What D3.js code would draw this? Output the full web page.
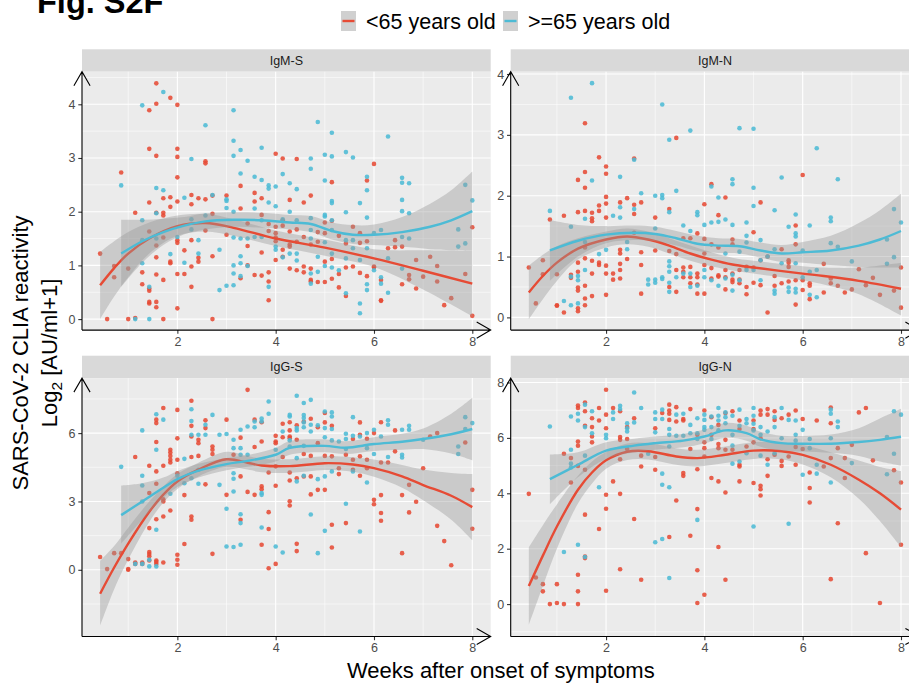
<!DOCTYPE html>
<html>
<head>
<meta charset="utf-8">
<script src="https://cdn.jsdelivr.net/npm/d3@7"></script>
<style>
  body { margin: 0; background: #ffffff; }
  svg { display: block; font-family: "Liberation Sans", Arial, Helvetica, sans-serif; }
</style>
</head>
<body>
<svg id="chart" width="909" height="684"></svg>
<script>
// ---- facets, groups, axes ----
const panelNames = ["IgM-S", "IgM-N", "IgG-S", "IgG-N"];
const groupNames = ["<65 years old", ">=65 years old"];
const groupColors = ["#E64B35", "#4DBBD5"];

// x values are days after onset; ticks are labelled in weeks
const xDomainDays = [0.42, 58.62];
const xTickDays = [14, 28, 42, 56];
const xTickLabels = ["2", "4", "6", "8"];
const xMinorDays = [7, 21, 35, 49];

const yDomains = [[-0.205, 4.607], [-0.209, 4.038], [-2.928, 8.415], [-1.17, 8.159]];
const yTicks = [[0, 1, 2, 3, 4], [0, 1, 2, 3, 4], [0, 3, 6], [0, 2, 4, 6, 8]];
const yMinor = [[0.5, 1.5, 2.5, 3.5, 4.5], [0.5, 1.5, 2.5, 3.5], [-1.5, 1.5, 4.5, 7.5], [-1, 1, 3, 5, 7]];

// ---- observations: [day, log2 value] ----
const igmS_under65 = [[3,1.22],[4,0],[5,0.99],[5,0.78],[6,2.73],[7,0],[7,0.94],[8,1.98],[8,0.02],[9,0.87],[9,0.65],
[10,3.89],[10,3.17],[10,2.17],[10,1.63],[10,0.57],[10,0.53],[10,0.32],[10,0.29],
[11,4.39],[11,4.01],[11,3.04],[11,1.98],[11,1.37],[11,1.15],[11,0.83],[11,0.32],[11,0.22],
[12,2.25],[12,1.98],[12,1.93],[12,1.52],[12,0.73],[12,0],
[13,4.12],[13,2.27],[13,2.09],[13,1.07],[13,1.04],
[14,3.99],[14,3.17],[14,3.02],[14,2.64],[14,2.19],[14,1.47],[14,1.42],[14,0.84],[14,0.2],
[15,1.28],[15,0.84],[16,2.31],[16,2.14],[16,1.47],[16,0.98],[16,0.6],[17,2.25],[17,1.14],[17,1.07],
[18,2.94],[18,2.9],[18,2.23],[18,1.65],[19,2.3],[19,1.96],[19,1.17],[19,0],[21,2.3],[21,1.57],
[23,2.48],[23,2.06],[23,0.76],[24,1.78],[24,1.36],[24,1.0],[25,2.35],[25,2.19],[25,0.82],
[26,2.25],[26,1.94],[26,1.24],[26,0.81],[27,1.77],[27,1.64],[27,0.87],[27,0.7],[27,0.35],
[28,3.08],[28,1.72],[28,1.6],[28,1.52],[28,1.45],[28,1.1],[29,2.99],[29,1.84],[29,1.74],[29,1.29],[29,1.16],
[30,2.22],[30,1.63],[30,1.39],[30,1.35],[30,0.94],[31,2.98],[31,1.67],[31,1.44],[31,0.91],
[32,2.17],[32,1.53],[32,0.98],[32,0.87],[33,2.3],[33,1.39],[33,0.94],[33,0.73],[33,0.7],
[34,1.62],[34,1.44],[34,0.69],[35,1.8],[35,1.6],[35,1.07],[35,0.69],[36,2.55],[36,1.83],[36,1.12],[36,0.75],
[37,1.55],[37,0.84],[37,0.59],[38,1.41],[38,0.96],[38,0.43],[39,1.72],[39,0.98],[40,1.6],[40,1.42],[40,0.86],
[41,2.58],[41,1.45],[41,0.8],[42,2.89],[42,0.98],[42,0.96],[43,0.73],[43,0.35],[43,0.34],[44,1.32],
[45,1.47],[45,1.34],[46,1.35],[46,0.65],[47,0.82],[47,0.74],[48,1.1],[48,0.57],[49,0.79],[50,1.16],
[51,0.99],[51,0.7],[52,0.26],[53,0.39],[55,0.84],[56,1.71],[56,0.06]];

const igmS_over65 = [[6,2.49],[8,0],[9,3.98],[9,1.84],[9,1.47],[9,1.04],[10,0.6],[10,0],[11,2.44],[11,1.97],[11,1.5],
[12,4.23],[12,2.4],[13,1.21],[14,1.53],[15,2.26],[15,1.05],[16,2.98],[16,1.86],[16,1.67],[17,1.47],[17,1.22],
[18,3.61],[18,1.93],[19,2.31],[20,1.29],[20,0.54],[21,2.23],[21,2.2],[21,2.07],[21,0.62],
[22,3.89],[22,3.32],[22,3.04],[22,2.0],[22,1.52],[22,1.0],[22,0.85],[22,0.63],
[23,3.15],[23,2.71],[23,1.5],[23,1.17],[23,1.04],[23,0.8],[24,2.95],[24,1.5],[24,0.99],
[25,2.65],[25,2.06],[25,1.53],[26,3.19],[26,2.59],[26,1.84],[26,1.53],[27,2.49],[27,2.43],[27,2.17],[27,0.6],
[28,2.47],[28,2.1],[28,1.35],[28,1.29],[29,2.7],[29,1.86],[29,1.15],[30,2.53],[30,2.0],[30,1.22],
[31,2.42],[31,1.84],[31,1.22],[31,1.09],[33,2.99],[33,2.8],[33,1.88],[33,1.66],[33,1.5],[33,0.85],[33,0.66],
[34,3.67],[34,1.16],[34,0.88],[35,3.06],[35,2.58],[35,1.94],[35,1.91],[35,1.43],[35,0.99],
[36,3.47],[36,3.03],[36,2.2],[36,2.16],[36,1.84],[36,1.66],[36,1.22],[36,0.96],[37,0.91],
[38,3.11],[38,1.99],[38,1.47],[38,1.13],[38,0.48],[39,3.01],[39,1.47],[39,1.32],[40,2.16],[40,1.1],[40,0.29],[40,0.11],
[41,2.65],[41,2.4],[41,1.89],[41,1.32],[41,0.65],[41,0.54],[42,1.6],[42,0.91],[43,1.66],[43,0.78],[43,0.66],
[44,3.4],[44,1.13],[44,0.49],[46,2.63],[46,2.54],[46,2.22],[46,2.01],[46,1.53],[46,0.94],[47,2.53],[47,1.97],[47,1.5],
[54,1.67],[54,1.35],[55,2.5],[55,1.41],[56,2.21]];

const igmN_under65 = [[3,0.82],[4,0.23],[5,0.94],[5,0.71],[6,1.61],[7,0.71],[7,0.2],[7,0.19],[8,1.67],[8,0.08],[9,0.65],[9,0.7],
[10,2.26],[10,1.73],[10,0.9],[10,0.75],[10,0.49],[10,0.44],[10,0.15],[10,0.1],
[11,3.19],[11,2.39],[11,2.13],[11,1.75],[11,1.15],[11,0.97],[11,0.52],[11,0.31],[11,0.2],
[12,1.72],[12,1.63],[12,1.58],[12,0.93],[12,0.72],[12,0.35],[13,2.63],[13,1.84],[13,1.75],[13,0.9],[13,0.86],
[14,2.48],[14,2.36],[14,1.98],[14,1.87],[14,1.64],[14,0.85],[14,0.72],[14,0.37],[15,0.72],[15,0.62],
[16,1.89],[16,1.11],[16,1.05],[16,0.88],[16,0.78],[16,0.64],[17,1.96],[17,0.96],[18,2.61],[18,1.85],[18,1.7],[18,1.39],
[19,1.89],[19,1.07],[19,0.86],[19,0.39],[21,1.64],[21,1.1],[23,1.78],[23,1.09],[23,0.5],
[24,2.95],[24,1.04],[24,0.78],[24,0.42],[25,1.3],[25,0.82],[25,0.75],[25,0.66],[26,1.3],[26,0.83],[26,0.66],[26,0.56],
[27,1.38],[27,0.72],[27,0.66],[27,0.54],[27,0.39],[28,1.86],[28,1.29],[28,1.05],[28,0.86],[28,0.39],
[29,2.19],[29,1.2],[29,0.81],[29,0.64],[30,1.68],[30,1.15],[30,0.69],[30,0.67],[31,1.97],[31,0.78],[31,0.66],[31,0.46],
[32,1.28],[32,1.2],[32,0.72],[32,0.62],[32,0.58],[33,0.78],[33,0.62],[33,0.56],[34,0.83],[34,0.5],[34,0.38],
[35,1.4],[35,0.82],[35,0.57],[36,1.89],[36,0.94],[36,0.53],[37,1.0],[37,0.08],[38,0.68],[38,0.52],[39,1.12],[39,0.56],
[40,0.94],[40,0.9],[40,0.83],[40,0.59],[41,1.51],[41,1.2],[41,0.61],[41,0.21],[42,2.34],[42,0.61],[42,0.45],
[43,0.56],[43,0.52],[43,0.3],[45,0.88],[45,0.41],[46,0.64],[46,0.56],[47,0.52],[48,0.41],[49,0.46],[50,0.79],
[51,0.53],[52,0.65],[53,0.37],[55,0.44],[56,0.82],[56,0.16]];

const igmN_over65 = [[6,1.75],[8,0.27],[9,3.61],[9,1.49],[9,0.67],[9,0.2],[10,0.68],[10,0.61],[10,0.23],[11,1.62],[11,1.24],[11,0.78],
[12,3.85],[12,2.25],[13,1.04],[14,1.11],[15,1.67],[16,2.31],[16,1.81],[16,1.64],[17,1.24],[17,1.12],[18,2.59],[18,1.78],
[19,2.04],[20,0.62],[20,0.54],[21,2.0],[21,1.46],[21,0.62],[21,0.57],[22,3.5],[22,2.01],[22,1.96],[22,0.66],[22,0.63],
[23,2.92],[23,1.73],[23,0.92],[23,0.84],[23,0.75],[23,0.57],[23,0.42],[24,2.08],[24,0.66],[25,1.51],[25,0.72],
[26,3.07],[26,1.42],[26,0.72],[26,0.5],[27,1.73],[27,1.68],[27,0.52],[28,1.52],[28,0.78],[28,0.66],
[29,2.15],[29,1.56],[29,0.61],[30,1.97],[30,1.57],[30,0.52],[31,1.61],[31,1.05],[31,0.64],
[32,2.27],[32,2.19],[32,1.52],[32,0.7],[32,0.44],[33,3.11],[33,1.08],[33,0.61],[34,1.56],[34,1.34],[34,1.23],[34,0.78],
[35,3.1],[35,2.13],[35,1.83],[35,0.78],[36,1.27],[36,0.94],[36,0.61],[37,1.0],[38,1.76],[38,1.12],[38,0.44],[38,0.39],
[39,2.3],[39,0.89],[40,1.49],[40,0.49],[40,0.42],[41,1.69],[41,1.38],[41,1.33],[41,0.89],[41,0.47],[41,0.41],
[42,1.1],[42,0.66],[43,1.51],[43,0.75],[43,0.37],[44,2.78],[44,0.78],[44,0.33],[46,1.64],[46,1.58],[46,1.22],
[47,2.27],[47,1.16],[49,0.92],[54,1.28],[54,0.88],[55,1.78],[55,0.99],[56,1.56]];

const iggS_under65 = [[3,0.56],[4,0.03],[5,0.73],[6,0.73],[7,0.47],[7,0.03],[7,0],[8,4.95],[8,0.32],[8,0.26],[9,0.32],[9,0.26],
[10,4.57],[10,3.37],[10,1.83],[10,0.78],[10,0.69],[10,0.59],[10,0.41],
[11,6.59],[11,6.44],[11,5.61],[11,4.32],[11,3.78],[11,2.22],[11,0.41],[11,0.34],[11,0.26],
[12,7.1],[12,4.57],[12,3.1],[12,3.0],[12,2.34],[12,0.32],[13,5.27],[13,5.15],[13,5.0],[13,4.83],[13,4.71],[13,2.6],
[14,7.02],[14,5.77],[14,4.83],[14,4.24],[14,0.66],[14,0.44],[14,0.22],[15,3.28],[15,1.13],
[16,7.42],[16,6.32],[16,5.85],[16,4.95],[16,2.34],[16,2.2],[17,5.71],[17,5.56],[17,5.0],[18,6.56],[18,6.22],[18,3.75],
[19,5.41],[19,5.27],[19,5.08],[19,0.7],[21,6.59],[21,3.29],[22,5.05],[23,5.8],[23,4.1],[23,2.2],[24,7.9],[24,3.42],
[25,6.59],[25,5.39],[25,3.29],[26,6.48],[26,5.63],[26,3.66],[26,3.54],[26,1.1],[27,4.27],[27,2.53],[27,1.79],[27,0.07],
[28,5.88],[28,5.63],[28,5.56],[28,4.54],[28,3.69],[28,0.26],[29,6.41],[29,5.82],[29,4.95],
[30,6.48],[30,6.12],[30,5.85],[30,5.78],[30,4.27],[30,3.92],[30,3.01],[30,2.82],[31,6.34],[31,5.71],[31,4.02],[31,1.14],[31,0.82],
[32,6.5],[32,5.08],[32,4.1],[33,6.63],[33,5.0],[33,4.1],[33,3.31],[34,6.26],[34,5.56],[34,3.51],
[35,6.88],[35,6.47],[35,5.0],[35,3.51],[36,6.32],[36,4.98],[36,1.98],[36,0.98],[37,4.46],[37,4.2],[38,5.05],[38,2.05],
[39,5.74],[39,4.83],[39,4.39],[40,6.47],[40,5.93],[40,4.98],[40,4.13],[41,5.75],[41,4.83],[41,4.46],
[42,6.0],[42,3.07],[42,2.88],[43,6.48],[43,4.71],[43,3.28],[43,2.49],[43,2.15],[44,4.71],[45,6.12],[45,5.2],
[46,3.28],[46,0.73],[47,3.73],[47,2.52],[48,2.99],[49,4.46],[50,5.85],[51,6.0],[51,1.93],[52,1.26],[53,0.2],
[55,5.59],[56,3.51],[56,1.8]];

const iggS_over65 = [[6,4.52],[8,0.26],[9,6.12],[9,4.13],[9,3.7],[9,3.0],[9,0.26],[10,0.44],[10,0.15],[11,6.83],[11,5.27],[11,1.76],[11,0.15],
[12,6.59],[13,3.34],[14,4.13],[15,4.87],[15,3.8],[16,7.05],[16,6.53],[16,5.93],[16,4.02],[17,5.93],[17,4.39],[17,3.78],
[18,6.37],[18,5.93],[19,6.8],[20,5.93],[20,3.73],[21,5.96],[21,2.68],[21,1.02],[22,5.71],[22,5.34],[22,4.24],[22,4.0],[22,3.44],[22,1.0],
[23,6.15],[23,5.34],[23,5.05],[23,2.44],[23,2.05],[23,1.1],[24,6.29],[24,5.05],[25,6.51],[25,6.26],
[26,6.64],[26,6.51],[26,3.37],[26,3.29],[26,1.86],[27,7.39],[27,6.85],[28,5.27],[28,1.02],[29,6.07],[29,0.76],
[30,6.8],[30,6.73],[30,5.68],[30,5.41],[31,7.64],[31,6.22],[31,6.12],[31,4.9],[31,3.88],
[32,7.32],[32,6.79],[32,6.66],[32,6.47],[32,6.26],[32,5.44],[32,4.13],[33,7.46],[33,6.37],[33,6.07],[33,2.43],
[34,6.34],[34,3.98],[34,0.73],[35,6.95],[35,6.22],[35,5.82],[35,4.1],[35,1.71],[36,6.91],[36,6.73],[36,6.18],[36,5.68],[36,4.32],
[37,5.63],[38,5.97],[38,5.74],[38,5.3],[38,2.9],[39,6.7],[39,5.88],[39,4.32],[40,5.85],[40,1.68],[41,6.0],[41,5.34],[41,3.83],
[42,6.15],[42,5.08],[43,5.85],[44,6.56],[44,6.37],[44,4.95],[46,6.15],[46,5.05],[46,4.93],[47,6.32],[47,6.15],[49,5.71],
[54,5.41],[54,5.08],[55,6.7],[55,6.18],[56,6.44]];

const iggN_under65 = [[3,3.98],[4,0.96],[5,0.72],[5,0.46],[6,0],[7,0.72],[7,0.04],[8,5.43],[8,0],[9,5.27],[9,4.39],
[10,7.17],[10,7.08],[10,5.87],[10,5.72],[10,4.99],[10,1.06],[10,0.46],[10,0],
[11,7.28],[11,6.96],[11,6.44],[11,4.85],[11,3.23],[11,1.72],[11,1.66],[12,6.71],[12,6.39],[12,6.05],[12,5.84],
[13,7.08],[13,6.63],[13,2.71],[14,7.74],[14,6.84],[14,6.35],[14,3.95],[14,3.44],[14,0.48],[15,7.08],[15,4.43],
[16,6.96],[16,6.03],[16,5.93],[16,5.23],[16,3.98],[16,1.26],[17,6.39],[17,5.96],[17,5.6],[18,6.71],[18,3.07],
[19,5.36],[19,4.97],[19,0.88],[21,6.35],[21,5.31],[21,4.85],[22,6.9],[23,7.2],[23,6.99],[23,6.87],[23,6.65],[23,2.42],
[24,7.11],[24,6.59],[24,3.74],[25,6.68],[25,6.63],[25,4.73],[25,4.63],[26,7.04],[26,5.6],[26,2.47],
[27,6.11],[27,4.87],[27,3.43],[27,1.22],[27,0.04],[28,6.99],[28,5.84],[28,5.63],[28,5.33],[28,0.34],
[29,6.75],[29,6.11],[29,4.55],[30,6.47],[30,5.78],[30,5.63],[30,4.43],[30,2.06],[31,6.9],[31,5.93],[31,5.57],[31,4.03],[31,0.88],
[32,6.96],[32,5.57],[33,6.63],[33,6.32],[33,5.03],[33,4.97],[33,4.43],[34,5.69],[35,6.63],[35,6.32],[35,5.84],[35,4.37],
[36,6.99],[36,6.84],[36,5.99],[36,4.27],[36,4.15],[36,3.92],[37,7.04],[37,6.84],[37,5.23],[37,4.63],[38,6.96],[38,6.65],[38,5.39],
[39,6.71],[39,5.17],[39,4.99],[40,6.84],[40,5.33],[41,6.99],[41,5.67],[41,5.03],[42,6.68],[42,5.6],[43,4.75],[43,4.19],[43,3.67],
[44,6.63],[45,4.97],[46,7.1],[46,6.53],[46,5.27],[46,0.9],[47,5.63],[47,2.92],[48,5.27],[48,4.55],[49,5.75],[50,6.92],
[51,7.08],[51,1.84],[52,5.19],[53,0.04],[55,4.83],[56,4.39],[56,2.14]];

const iggN_over65 = [[6,6.41],[8,1.88],[9,6.77],[9,5.57],[9,5.07],[9,4.93],[10,6.87],[10,6.63],[10,2.14],[11,7.2],[11,6.39],[11,5.36],[11,1.7],
[12,6.96],[12,6.17],[13,4.22],[14,6.11],[14,5.99],[15,6.92],[15,6.68],[16,7.16],[16,7.04],[17,6.53],[17,6.35],[17,6.23],
[18,7.64],[18,6.56],[19,7.08],[20,5.43],[21,6.92],[21,6.68],[21,6.2],[21,2.23],[22,7.02],[22,6.68],[22,4.71],[22,4.31],[22,2.35],
[23,6.32],[23,6.11],[23,5.69],[23,4.22],[23,0.94],[24,6.84],[24,6.08],[25,6.87],[25,6.08],[26,6.47],[26,6.17],
[27,6.71],[27,6.17],[27,5.96],[27,3.04],[28,6.84],[28,6.65],[28,6.39],[28,6.29],[29,6.77],[29,6.39],[29,5.96],
[30,7.08],[30,6.8],[30,6.63],[30,6.27],[31,6.92],[31,6.75],[31,6.53],[32,6.8],[32,6.11],[32,5.72],[32,5.07],
[33,7.02],[33,6.44],[33,5.15],[34,6.68],[34,6.53],[34,5.45],[35,7.08],[35,6.8],[35,6.51],[35,6.27],[35,2.8],
[36,6.39],[36,6.11],[36,5.36],[37,6.23],[37,5.03],[38,6.75],[38,6.39],[38,5.45],[39,7.08],[39,5.99],[40,6.65],[40,2.9],
[41,6.63],[41,6.11],[41,5.9],[42,6.29],[42,4.67],[43,5.96],[43,5.63],[44,5.03],[44,4.71],[46,7.02],[46,6.87],[46,5.99],[46,4.39],
[47,6.59],[47,6.39],[49,5.09],[54,6.03],[54,4.69],[55,6.96],[55,5.43],[56,6.84]];

// ---- loess fits: [day, fit, lower 95%, upper 95%] ----
const igmS_fit_under65 = [[3,0.63,0.0,1.25],[5,0.95,0.42,1.45],[7,1.22,0.78,1.62],[10,1.5,1.22,1.8],[14,1.73,1.55,1.93],
[18,1.79,1.63,1.96],[22,1.7,1.55,1.86],[28,1.5,1.36,1.65],[35,1.33,1.18,1.48],[42,1.13,0.97,1.3],[49,0.9,0.55,1.28],[56,0.66,0.05,1.27]];
const igmS_fit_over65 = [[6,1.22,0.6,1.85],[9,1.45,1.05,1.85],[12,1.62,1.38,1.87],[15,1.74,1.58,1.9],[18,1.82,1.67,1.97],
[22,1.85,1.72,1.99],[26,1.84,1.7,1.98],[30,1.8,1.67,1.94],[33,1.77,1.62,1.92],[36,1.64,1.48,1.8],[39,1.57,1.4,1.75],
[42,1.57,1.38,1.76],[46,1.62,1.35,1.9],[50,1.72,1.3,2.15],[53,1.84,1.28,2.4],[56,2.01,1.27,2.75]];
const igmN_fit_under65 = [[3,0.41,-0.03,0.85],[5,0.68,0.3,1.03],[7,0.9,0.6,1.17],[10,1.13,0.95,1.3],[14,1.28,1.15,1.41],
[17,1.33,1.2,1.46],[20,1.28,1.16,1.41],[23,1.18,1.05,1.3],[26,1.05,0.93,1.18],[29,0.95,0.84,1.07],[32,0.87,0.77,0.98],
[35,0.82,0.72,0.93],[42,0.72,0.61,0.84],[45,0.68,0.54,0.82],[50,0.6,0.38,0.82],[56,0.47,0.03,0.9]];
const igmN_fit_over65 = [[6,1.1,0.6,1.6],[10,1.26,1.0,1.52],[14,1.36,1.22,1.5],[18,1.39,1.27,1.51],[21,1.37,1.25,1.49],
[24,1.3,1.18,1.42],[27,1.21,1.09,1.34],[30,1.18,1.06,1.3],[33,1.17,1.05,1.29],[36,1.1,0.98,1.23],[39,1.05,0.91,1.19],
[42,1.07,0.9,1.24],[46,1.1,0.86,1.34],[50,1.18,0.83,1.55],[53,1.28,0.82,1.76],[56,1.42,0.82,2.03]];
const iggS_fit_under65 = [[3,-1.05,-2.45,0.4],[5,0.1,-0.85,1.05],[7,1.15,0.45,1.85],[10,2.55,2.1,3.0],[12,3.3,2.95,3.65],
[14,3.88,3.55,4.2],[17,4.4,4.1,4.7],[21,4.85,4.52,5.18],[24,4.7,4.4,5.0],[26,4.58,4.28,4.88],[30,4.55,4.25,4.85],
[35,4.68,4.38,4.98],[39,4.62,4.3,4.94],[42,4.46,4.08,4.84],[46,4.1,3.6,4.6],[49,3.72,3.05,4.4],[53,3.25,2.2,4.25],[56,2.75,1.3,4.2]];
const iggS_fit_over65 = [[6,2.4,1.15,3.7],[9,3.0,2.2,3.8],[12,3.6,3.15,4.05],[14,3.98,3.63,4.33],[17,4.35,4.05,4.65],
[21,4.64,4.37,4.91],[24,4.78,4.52,5.04],[28,5.05,4.75,5.35],[30,5.35,5.05,5.65],[35,5.44,5.16,5.72],[38,5.36,5.08,5.64],
[42,5.52,5.22,5.82],[46,5.62,5.27,5.97],[49,5.74,5.3,6.2],[53,5.95,5.1,6.85],[56,6.18,4.8,7.55]];
const iggN_fit_under65 = [[3,0.65,-0.75,2.05],[5,1.75,0.65,2.85],[7,2.8,2.0,3.6],[10,4.13,3.63,4.63],[12,4.75,4.35,5.15],
[14,5.19,4.89,5.49],[17,5.5,5.2,5.8],[20,5.52,5.22,5.82],[24,5.33,5.03,5.63],[27,5.27,4.97,5.57],[31,5.39,5.09,5.69],
[35,5.54,5.24,5.84],[39,5.52,5.22,5.82],[42,5.39,5.04,5.74],[46,5.03,4.58,5.48],[50,4.49,3.8,5.18],[53,4.0,3.0,4.95],[56,3.41,2.05,4.8]];
const iggN_fit_over65 = [[6,4.51,3.6,5.4],[10,5.03,4.58,5.48],[14,5.54,5.24,5.84],[18,5.72,5.47,5.97],[21,5.81,5.57,6.05],
[25,5.9,5.66,6.14],[28,6.05,5.8,6.3],[31,6.27,6.0,6.54],[34,6.17,5.9,6.44],[36,5.95,5.68,6.22],[39,5.81,5.54,6.08],
[42,5.79,5.51,6.07],[46,5.79,5.46,6.12],[50,5.85,5.35,6.35],[53,5.93,5.15,6.7],[56,6.04,5.0,7.05]];

const pointSets = [[igmS_under65, igmS_over65], [igmN_under65, igmN_over65], [iggS_under65, iggS_over65], [iggN_under65, iggN_over65]];
const fitSets = [[igmS_fit_under65, igmS_fit_over65], [igmN_fit_under65, igmN_fit_over65], [iggS_fit_under65, iggS_fit_over65], [iggN_fit_under65, iggN_fit_over65]];

// ---- layout ----
const svg = d3.select("#chart");
const colX = [82, 510.7];
const panelW = 408.7;
const stripTop = [49.3, 355.7];
const stripH = 22.4;
const panelH = 258.4;
const tickFont = "12.5px";

svg.append("text")
  .attr("x", 37).attr("y", 13)
  .attr("font-size", "32.5px").attr("font-weight", "bold").attr("fill", "#000")
  .text("Fig. S2F");

// legend
const legendKeys = [{x: 341, tx: 366}, {x: 503, tx: 528}];
groupNames.forEach((g, i) => {
  const k = legendKeys[i];
  svg.append("rect").attr("x", k.x).attr("y", 11).attr("width", 15).attr("height", 20).attr("fill", "#D0D0D0");
  svg.append("line").attr("x1", k.x + 1.5).attr("x2", k.x + 13.5).attr("y1", 21).attr("y2", 21)
    .attr("stroke", groupColors[i]).attr("stroke-width", 2.4);
  svg.append("text").attr("x", k.tx).attr("y", 29).attr("font-size", "21.5px").attr("fill", "#000").text(g);
});

const defs = svg.append("defs");

panelNames.forEach((name, i) => {
  const col = i % 2, row = Math.floor(i / 2);
  const gx = colX[col], top = stripTop[row] + stripH;
  const x = d3.scaleLinear().domain(xDomainDays).range([0, panelW]);
  const y = d3.scaleLinear().domain(yDomains[i]).range([panelH, 0]);

  // strip
  svg.append("rect").attr("x", gx).attr("y", stripTop[row]).attr("width", panelW).attr("height", stripH).attr("fill", "#D9D9D9");
  svg.append("text").attr("x", gx + panelW / 2).attr("y", stripTop[row] + stripH / 2)
    .attr("text-anchor", "middle").attr("dominant-baseline", "central")
    .attr("font-size", tickFont).attr("fill", "#1A1A1A").text(name);

  const g = svg.append("g").attr("transform", `translate(${gx},${top})`);
  g.append("rect").attr("width", panelW).attr("height", panelH).attr("fill", "#EBEBEB");

  // grid
  g.selectAll(".hmin").data(yMinor[i]).join("line")
    .attr("x1", 0).attr("x2", panelW).attr("y1", d => y(d)).attr("y2", d => y(d))
    .attr("stroke", "#fff").attr("stroke-width", 0.55);
  g.selectAll(".vmin").data(xMinorDays).join("line")
    .attr("y1", 0).attr("y2", panelH).attr("x1", d => x(d)).attr("x2", d => x(d))
    .attr("stroke", "#fff").attr("stroke-width", 0.55);
  g.selectAll(".hmaj").data(yTicks[i]).join("line")
    .attr("x1", 0).attr("x2", panelW).attr("y1", d => y(d)).attr("y2", d => y(d))
    .attr("stroke", "#fff").attr("stroke-width", 1.1);
  g.selectAll(".vmaj").data(xTickDays).join("line")
    .attr("y1", 0).attr("y2", panelH).attr("x1", d => x(d)).attr("x2", d => x(d))
    .attr("stroke", "#fff").attr("stroke-width", 1.1);

  const clipId = "clip" + i;
  defs.append("clipPath").attr("id", clipId).append("rect").attr("width", panelW).attr("height", panelH);
  const plot = g.append("g").attr("clip-path", `url(#${clipId})`);

  // points
  pointSets[i].forEach((pts, gi) => {
    plot.append("g").selectAll("circle").data(pts).join("circle")
      .attr("cx", d => x(d[0])).attr("cy", d => y(d[1])).attr("r", 2.3)
      .attr("fill", groupColors[gi]).attr("fill-opacity", 0.88);
  });

  // smooth fits with confidence band
  const curve = d3.curveCatmullRom.alpha(0.5);
  fitSets[i].forEach((fit, gi) => {
    plot.append("path").datum(fit)
      .attr("d", d3.area().curve(curve).x(d => x(d[0])).y0(d => y(d[2])).y1(d => y(d[3])))
      .attr("fill", "#999999").attr("fill-opacity", 0.4);
    plot.append("path").datum(fit)
      .attr("d", d3.line().curve(curve).x(d => x(d[0])).y(d => y(d[1])))
      .attr("fill", "none").attr("stroke", groupColors[gi]).attr("stroke-width", 2.4);
  });

  // axes
  const yAxis = d3.axisLeft(y).tickValues(yTicks[i]).tickSize(3.7).tickPadding(2.8)
    .tickFormat(d3.format("d"));
  const xAxis = d3.axisBottom(x).tickValues(xTickDays).tickSize(3.7).tickPadding(3)
    .tickFormat(d => xTickLabels[xTickDays.indexOf(d)]);
  const ya = g.append("g").call(yAxis);
  const xa = g.append("g").attr("transform", `translate(0,${panelH})`).call(xAxis);
  [ya, xa].forEach(a => {
    a.select(".domain").remove();
    a.selectAll(".tick line").attr("stroke", "#333333").attr("stroke-width", 1.1);
    a.selectAll(".tick text").attr("fill", "#4D4D4D").attr("font-size", tickFont)
      .attr("font-family", "Liberation Sans, Arial, sans-serif");
  });

  // axis lines with open arrow heads
  g.append("path").attr("d", `M0,${panelH}V0M-8.1,14L0,0L8.1,14`)
    .attr("fill", "none").attr("stroke", "#000").attr("stroke-width", 1.1);
  g.append("path").attr("d", `M0,${panelH}H${panelW}M${panelW - 14},${panelH - 8.1}L${panelW},${panelH}L${panelW - 14},${panelH + 8.1}`)
    .attr("fill", "none").attr("stroke", "#000").attr("stroke-width", 1.1);
});

// axis titles
svg.append("text").attr("transform", "translate(27.5,353) rotate(-90)")
  .attr("text-anchor", "middle").attr("font-size", "22px").attr("fill", "#000")
  .text("SARS-CoV-2 CLIA reactivity");
const t2 = svg.append("text").attr("transform", "translate(56.5,353) rotate(-90)")
  .attr("text-anchor", "middle").attr("font-size", "22px").attr("fill", "#000");
t2.append("tspan").text("Log");
t2.append("tspan").attr("font-size", "15.5px").attr("dy", 5).text("2");
t2.append("tspan").attr("dy", -5).text(" [AU/ml+1]");

svg.append("text").attr("x", 500.8).attr("y", 677.5).attr("text-anchor", "middle")
  .attr("font-size", "22px").attr("fill", "#000").text("Weeks after onset of symptoms");
</script>
</body>
</html>
